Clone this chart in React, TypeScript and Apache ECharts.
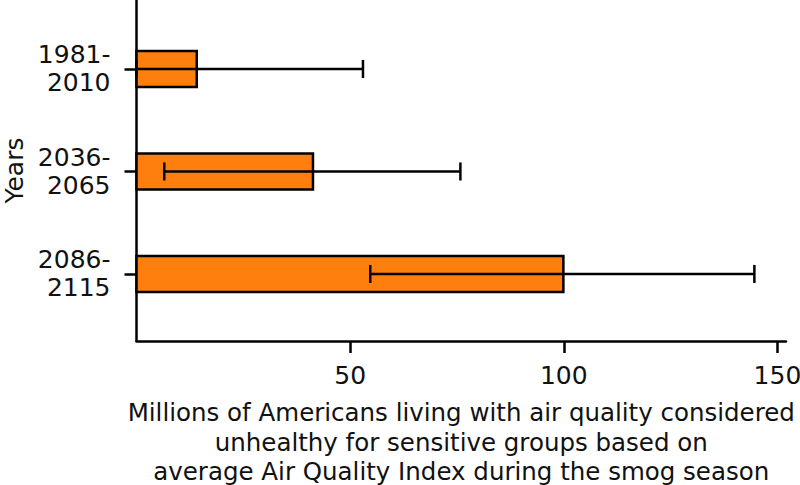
import React, { useEffect, useRef } from "react";
import * as echarts from "echarts";

const categories = ["1981-\n2010", "2036-\n2065", "2086-\n2115"];
const values = [14.1, 41.3, 99.9];
const errLow = [0, 6.5, 54.7];
const errHigh = [53.0, 75.8, 144.6];
const xTicks = [50, 100, 150];
const yTicks = [0, 1, 2];
const xName =
  "Millions of Americans living with air quality considered\nunhealthy for sensitive groups based on\naverage Air Quality Index during the smog season";
const yName = "Years";

const FONT = "DejaVu Sans";
const BAR_H = 0.35;
const CAP_H = 0.088;

export default function App() {
  const ref = useRef<HTMLDivElement>(null);
  useEffect(() => {
    if (!ref.current) return;
    const chart = echarts.init(ref.current, null, { renderer: "svg" });
    const data = categories.map((_, i) => [i, values[i], errLow[i], errHigh[i]]);
    const option = {
      animation: false,
      grid: {
        left: 136.5,
        right: 14,
        top: 0,
        bottom: 144,
        containLabel: false,
        outerBoundsMode: "none",
      },
      xAxis: {
        type: "value",
        min: 0,
        max: 152,
        splitLine: { show: false },
        axisLine: { show: true, onZero: false, lineStyle: { color: "#000", width: 2.5 } },
        axisTick: { show: true, length: 12, lineStyle: { color: "#000", width: 2.5 }, customValues: xTicks },
        axisLabel: {
          customValues: xTicks,
          margin: 22,
          fontFamily: FONT,
          fontSize: 25,
          color: "#111",
        },
        name: xName,
        nameLocation: "middle",
        nameGap: 57,
        nameTextStyle: { fontFamily: FONT, fontSize: 24.5, color: "#111", lineHeight: 29.5, verticalAlign: "top" },
      },
      yAxis: {
        type: "value",
        inverse: true,
        min: -0.673,
        max: 2.654,
        splitLine: { show: false },
        axisLine: { show: true, onZero: false, lineStyle: { color: "#000", width: 2.5 } },
        axisTick: { show: true, length: 12, lineStyle: { color: "#000", width: 2.5 }, customValues: yTicks },
        axisLabel: {
          customValues: yTicks,
          margin: 26,
          fontFamily: FONT,
          fontSize: 25,
          color: "#111",
          lineHeight: 28,
          align: "right",
          formatter: (v: number) => categories[Math.round(v)] ?? "",
        },
        name: yName,
        nameLocation: "middle",
        nameRotate: 90,
        nameGap: 110,
        nameTextStyle: { fontFamily: FONT, fontSize: 25, color: "#111" },
      },
      series: [
        {
          type: "custom",
          data,
          encode: { x: [1, 2, 3], y: 0 },
          renderItem: (params: any, api: any) => {
            const idx = api.value(0);
            const v = api.value(1);
            const lo = api.value(2);
            const hi = api.value(3);
            const p0 = api.coord([0, idx - BAR_H / 2]);
            const p1 = api.coord([v, idx + BAR_H / 2]);
            const x = Math.min(p0[0], p1[0]);
            const y = Math.min(p0[1], p1[1]);
            const w = Math.abs(p1[0] - p0[0]);
            const h = Math.abs(p1[1] - p0[1]);
            const c = api.coord([lo, idx]);
            const d = api.coord([hi, idx]);
            const capA = api.coord([lo, idx - CAP_H]);
            const capB = api.coord([lo, idx + CAP_H]);
            const capC = api.coord([hi, idx - CAP_H]);
            const capD = api.coord([hi, idx + CAP_H]);
            const ls = { stroke: "#000", lineWidth: 2.5 };
            return {
              type: "group",
              children: [
                {
                  type: "rect",
                  shape: { x, y, width: w, height: h },
                  style: { fill: "#ff7f0e", stroke: "#000", lineWidth: 2.5 },
                },
                { type: "line", shape: { x1: c[0], y1: c[1], x2: d[0], y2: d[1] }, style: ls },
                { type: "line", shape: { x1: capA[0], y1: capA[1], x2: capB[0], y2: capB[1] }, style: ls },
                { type: "line", shape: { x1: capC[0], y1: capC[1], x2: capD[0], y2: capD[1] }, style: ls },
              ],
            };
          },
        },
      ],
    };
    chart.setOption(option as any);
    return () => chart.dispose();
  }, []);
  return <div ref={ref} style={{ width: 800, height: 485, position: "absolute", left: 0, top: 0 }} />;
}
